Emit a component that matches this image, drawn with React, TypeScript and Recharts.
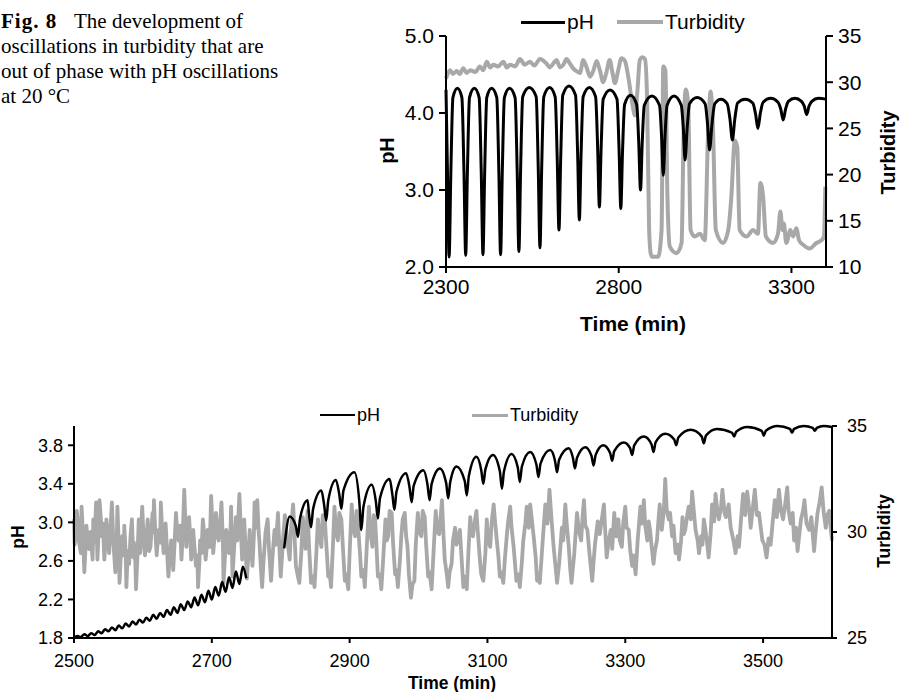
import { LineChart, Line, XAxis, YAxis, Label } from 'recharts'

// ---- data: [time (min), value] ----

const topTimeTicks = [2300, 2800, 3300]
const topPhTicks = [2, 3, 4, 5]
const topTurbTicks = [10, 15, 20, 25, 30, 35]

const topPh = [
  [2300, 4.30], [2304, 3.30], [2309, 2.13],
  [2314, 3.22], [2320, 4.20], [2333, 4.32], [2346, 4.20], [2352, 3.24], [2357, 2.15],
  [2362, 3.24], [2368, 4.20], [2382, 4.32], [2396, 4.20], [2402, 3.24], [2407, 2.16],
  [2412, 3.24], [2418, 4.20], [2432, 4.32], [2447, 4.20], [2453, 3.24], [2458, 2.16],
  [2463, 3.24], [2469, 4.20], [2484, 4.32], [2500, 4.20], [2506, 3.26], [2511, 2.20],
  [2516, 3.27], [2522, 4.21], [2541, 4.33], [2561, 4.21], [2567, 3.29], [2572, 2.25],
  [2577, 3.29], [2583, 4.21], [2600, 4.33], [2616, 4.21], [2622, 3.40], [2627, 2.48],
  [2632, 3.41], [2638, 4.23], [2656, 4.35], [2675, 4.23], [2681, 3.48], [2686, 2.61],
  [2691, 3.47], [2697, 4.21], [2715, 4.33], [2733, 4.21], [2739, 3.55], [2744, 2.78],
  [2749, 3.54], [2755, 4.18], [2775, 4.30], [2795, 4.18], [2801, 3.52], [2806, 2.76],
  [2811, 3.50], [2817, 4.11], [2834, 4.23], [2852, 4.11], [2858, 3.61], [2863, 3.00],
  [2868, 3.61], [2874, 4.10], [2896, 4.22], [2918, 4.10], [2924, 3.70], [2929, 3.19],
  [2934, 3.70], [2940, 4.10], [2960, 4.22], [2981, 4.10], [2987, 3.80], [2992, 3.39],
  [2998, 3.80], [3005, 4.12], [3027, 4.20], [3050, 4.12], [3057, 3.86], [3063, 3.52],
  [3070, 3.86], [3078, 4.12], [3096, 4.18], [3114, 4.12], [3122, 3.92], [3129, 3.65],
  [3136, 3.92], [3144, 4.13], [3166, 4.18], [3188, 4.13], [3196, 3.99], [3203, 3.80],
  [3210, 4.00], [3218, 4.14], [3240, 4.19], [3261, 4.14], [3269, 4.05], [3276, 3.91],
  [3283, 4.05], [3291, 4.15], [3310, 4.19], [3329, 4.15], [3337, 4.09], [3344, 3.98],
  [3351, 4.09], [3359, 4.15], [3378, 4.19], [3400, 4.18],
]

const topTurbidity = [
  [2300, 30.4], [2306, 31.0], [2312, 31.3], [2320, 30.9], [2331, 31.2], [2340, 30.9],
  [2350, 31.5], [2360, 31.0], [2370, 31.3], [2385, 31.1], [2398, 31.7], [2408, 31.3],
  [2418, 32.2], [2428, 31.6], [2437, 31.9], [2450, 31.7], [2466, 32.2], [2476, 31.6],
  [2485, 31.9], [2500, 31.7], [2514, 32.5], [2528, 31.9], [2543, 32.2], [2556, 31.8],
  [2572, 32.5], [2591, 32.0], [2601, 31.6], [2612, 32.1], [2620, 32.4], [2630, 31.6],
  [2640, 31.9], [2649, 32.5], [2659, 32.0], [2668, 31.5], [2678, 31.2], [2688, 31.0],
  [2697, 32.4], [2707, 31.6], [2717, 30.6], [2727, 31.3], [2736, 32.3], [2746, 31.2],
  [2755, 30.0], [2764, 31.0], [2774, 32.4], [2782, 31.0], [2789, 29.9], [2798, 31.2],
  [2808, 32.6], [2818, 32.3], [2828, 30.5], [2838, 28.0], [2847, 26.4], [2854, 29.0],
  [2861, 32.4], [2869, 32.7], [2876, 32.5], [2882, 28.4], [2888, 14.0], [2893, 11.4],
  [2898, 11.1], [2914, 11.1], [2924, 14.0], [2929, 31.7], [2935, 31.3], [2941, 17.6],
  [2948, 12.2], [2967, 11.5], [2982, 12.6], [2988, 24.8], [2994, 29.2], [3001, 27.7],
  [3008, 14.0], [3020, 13.3], [3035, 13.6], [3049, 12.9], [3059, 24.8], [3066, 29.0],
  [3073, 24.8], [3081, 14.0], [3102, 12.6], [3117, 14.0], [3126, 17.6], [3136, 23.7],
  [3143, 23.0], [3150, 14.0], [3170, 13.3], [3189, 14.0], [3203, 13.6], [3210, 19.1],
  [3218, 17.6], [3226, 13.3], [3247, 12.6], [3261, 13.6], [3268, 16.0], [3274, 14.0],
  [3278, 14.7], [3285, 12.6], [3297, 14.0], [3305, 13.3], [3314, 14.2], [3322, 12.9],
  [3334, 12.4], [3353, 12.0], [3372, 12.6], [3387, 12.9], [3394, 13.3], [3398, 18.7],
]

const bottomTimeTicks = [2500, 2700, 2900, 3100, 3300, 3500]
const bottomPhTicks = [1.8, 2.2, 2.6, 3.0, 3.4, 3.8]
const bottomTurbTicks = [25, 30, 35]

const bottomPh = [
  [2500, 1.80], [2505, 1.82], [2510, 1.81], [2515, 1.84], [2520, 1.82], [2525, 1.85],
  [2530, 1.83], [2535, 1.87], [2540, 1.85], [2545, 1.89], [2550, 1.87], [2555, 1.91],
  [2560, 1.88], [2565, 1.93], [2570, 1.90], [2575, 1.95], [2580, 1.92], [2585, 1.97],
  [2590, 1.94], [2595, 1.99], [2600, 1.96], [2605, 2.01], [2610, 1.98], [2615, 2.04],
  [2620, 2.00], [2625, 2.06], [2630, 2.02], [2635, 2.09], [2640, 2.04], [2645, 2.12],
  [2650, 2.06], [2655, 2.15], [2660, 2.09], [2665, 2.18], [2670, 2.12], [2675, 2.22],
  [2680, 2.14], [2685, 2.25], [2690, 2.17], [2695, 2.29], [2700, 2.20], [2705, 2.33],
  [2710, 2.24], [2715, 2.38], [2720, 2.28], [2725, 2.43], [2730, 2.32], [2735, 2.49],
  [2740, 2.36], [2745, 2.54], [2750, 2.42],
  [2752, null],
  [2805, 2.73], [2813, 3.06],
  [2822, 2.96], [2825, 2.85], [2828, 3.04], [2839, 3.23],
  [2841, 3.09], [2844, 2.95], [2847, 3.14], [2859, 3.33],
  [2863, 3.18], [2866, 3.02], [2869, 3.23], [2880, 3.44],
  [2885, 3.29], [2888, 3.14], [2891, 3.33], [2907, 3.52],
  [2914, 3.22], [2917, 2.92], [2920, 3.16], [2932, 3.39],
  [2938, 3.22], [2941, 3.04], [2944, 3.25], [2958, 3.45],
  [2962, 3.29], [2965, 3.13], [2968, 3.32], [2982, 3.51],
  [2987, 3.36], [2990, 3.21], [2993, 3.38], [3007, 3.54],
  [3013, 3.39], [3016, 3.23], [3019, 3.40], [3031, 3.56],
  [3040, 3.41], [3043, 3.25], [3046, 3.42], [3055, 3.58],
  [3067, 3.43], [3070, 3.28], [3073, 3.48], [3084, 3.68],
  [3091, 3.54], [3094, 3.40], [3097, 3.55], [3108, 3.70],
  [3118, 3.53], [3121, 3.35], [3124, 3.53], [3135, 3.71],
  [3144, 3.57], [3147, 3.42], [3150, 3.58], [3162, 3.73],
  [3171, 3.60], [3174, 3.47], [3177, 3.61], [3191, 3.75],
  [3198, 3.64], [3201, 3.52], [3204, 3.65], [3218, 3.77],
  [3224, 3.67], [3227, 3.56], [3230, 3.67], [3242, 3.78],
  [3251, 3.69], [3254, 3.59], [3257, 3.70], [3268, 3.80],
  [3278, 3.72], [3281, 3.64], [3284, 3.74], [3298, 3.83],
  [3307, 3.77], [3310, 3.70], [3313, 3.80], [3327, 3.89],
  [3338, 3.81], [3341, 3.73], [3344, 3.83], [3358, 3.92],
  [3371, 3.86], [3374, 3.80], [3377, 3.88], [3395, 3.96],
  [3411, 3.89], [3414, 3.82], [3417, 3.90], [3433, 3.97],
  [3455, 3.93], [3458, 3.89], [3461, 3.94], [3477, 3.99],
  [3498, 3.95], [3501, 3.90], [3504, 3.95], [3521, 4.00],
  [3539, 3.97], [3542, 3.93], [3545, 3.97], [3559, 4.00],
  [3572, 3.98], [3575, 3.95], [3578, 3.98], [3588, 4.00], [3600, 3.99],
]

const bottomTurbidity = [
  [2500, 30.6], [2501, 29.4], [2502, 29.8], [2504, 31.0], [2505, 30.7], [2507, 29.6], [2510, 29.0],
  [2511, 31.2], [2513, 29.9], [2515, 28.1], [2517, 29.4], [2518, 30.3], [2520, 29.6], [2522, 29.2],
  [2524, 30.0], [2527, 28.7], [2528, 30.6], [2530, 29.5], [2532, 31.4], [2533, 30.0], [2534, 28.7],
  [2536, 30.2], [2537, 31.5], [2539, 30.6], [2540, 29.8], [2542, 30.4], [2544, 28.7], [2546, 29.6],
  [2547, 30.6], [2549, 29.7], [2551, 29.0], [2553, 30.2], [2555, 31.4], [2557, 29.6], [2560, 28.1],
  [2562, 29.5], [2563, 31.2], [2565, 29.4], [2566, 27.6], [2568, 28.9], [2570, 29.8], [2572, 28.9],
  [2573, 30.3], [2575, 29.0], [2576, 27.4], [2578, 29.1], [2580, 28.5], [2582, 29.8], [2584, 30.6],
  [2586, 28.8], [2587, 29.5], [2589, 28.6], [2590, 27.3], [2592, 28.8], [2594, 30.6], [2596, 29.0],
  [2597, 29.6], [2598, 30.5], [2599, 31.2], [2601, 29.7], [2603, 28.9], [2605, 29.6], [2607, 30.6],
  [2609, 29.1], [2611, 29.3], [2613, 30.4], [2614, 30.9], [2615, 30.0], [2616, 31.5], [2618, 30.0],
  [2620, 28.9], [2622, 29.8], [2623, 30.1], [2625, 29.5], [2626, 31.4], [2628, 30.0], [2630, 29.0],
  [2632, 29.9], [2633, 30.4], [2635, 29.1], [2637, 27.9], [2639, 28.9], [2641, 29.6], [2643, 28.8],
  [2644, 28.2], [2646, 29.5], [2648, 30.9], [2650, 29.9], [2652, 29.6], [2654, 30.3], [2656, 28.7],
  [2658, 30.1], [2660, 32.0], [2662, 30.2], [2663, 29.3], [2665, 30.4], [2667, 30.7], [2669, 29.5],
  [2670, 28.7], [2672, 29.6], [2673, 30.1], [2675, 29.2], [2677, 28.4], [2679, 28.9], [2680, 27.4],
  [2682, 28.6], [2683, 29.6], [2685, 29.0], [2687, 30.6], [2689, 29.9], [2691, 28.7], [2693, 29.4],
  [2694, 30.1], [2697, 29.3], [2699, 31.7], [2701, 30.3], [2702, 29.0], [2704, 29.8], [2706, 30.9],
  [2708, 29.9], [2710, 29.6], [2712, 30.4], [2714, 31.4], [2716, 29.6], [2717, 27.6], [2719, 28.8],
  [2721, 30.1], [2723, 29.6], [2725, 29.0], [2727, 30.0], [2728, 31.2], [2729, 29.5], [2730, 27.9],
  [2732, 29.0], [2735, 30.7], [2737, 29.6], [2740, 31.8], [2742, 30.2], [2744, 28.7], [2746, 29.7],
  [2747, 30.6], [2749, 29.2], [2751, 27.8], [2753, 28.9], [2755, 30.1], [2757, 29.2], [2759, 28.4],
  [2761, 29.8], [2762, 31.4], [2764, 30.2], [2766, 31.5], [2768, 30.0], [2769, 29.6], [2771, 28.4],
  [2773, 27.4], [2775, 28.6], [2778, 30.0], [2781, 30.6], [2783, 29.2], [2786, 27.7], [2788, 28.8],
  [2791, 30.1], [2793, 29.4], [2796, 30.9], [2798, 29.3], [2800, 27.9], [2802, 28.9], [2803, 29.5],
  [2806, 30.8], [2808, 30.1], [2810, 29.5], [2813, 28.7], [2815, 30.2], [2818, 31.3], [2820, 29.9],
  [2822, 28.4], [2825, 27.9], [2827, 27.6], [2830, 29.1], [2832, 30.7], [2834, 30.0], [2836, 29.2],
  [2838, 30.4], [2839, 31.0], [2841, 29.4], [2844, 27.6], [2847, 27.9], [2849, 27.4], [2852, 29.2],
  [2854, 30.6], [2856, 29.9], [2859, 29.3], [2861, 30.8], [2864, 30.6], [2866, 29.5], [2869, 27.9],
  [2871, 28.1], [2873, 27.4], [2876, 29.5], [2878, 31.2], [2880, 30.1], [2883, 29.6], [2885, 30.9],
  [2888, 30.6], [2890, 29.4], [2893, 27.7], [2895, 28.0], [2898, 27.3], [2900, 29.0], [2903, 31.3],
  [2905, 30.2], [2908, 29.8], [2910, 31.0], [2912, 30.4], [2915, 29.0], [2917, 27.9], [2920, 28.2],
  [2922, 27.4], [2925, 29.4], [2928, 31.2], [2930, 30.0], [2933, 29.3], [2935, 30.8], [2937, 30.6],
  [2939, 29.3], [2941, 27.9], [2944, 28.0], [2946, 27.3], [2949, 28.9], [2952, 30.6], [2954, 29.6],
  [2956, 29.8], [2958, 31.0], [2961, 30.9], [2963, 29.5], [2966, 28.0], [2968, 28.2], [2970, 27.4],
  [2973, 28.7], [2975, 29.8], [2977, 30.6], [2980, 30.9], [2982, 29.8], [2984, 29.3], [2986, 28.0],
  [2989, 26.9], [2991, 27.5], [2994, 27.7], [2996, 29.4], [2999, 30.9], [3001, 30.0], [3004, 29.8],
  [3006, 31.0], [3009, 30.7], [3011, 29.4], [3014, 27.9], [3016, 28.1], [3019, 27.3], [3022, 29.2],
  [3025, 31.0], [3027, 30.0], [3030, 29.9], [3032, 30.7], [3034, 31.5], [3036, 30.0], [3038, 28.7],
  [3041, 28.0], [3043, 27.4], [3045, 28.1], [3048, 28.5], [3050, 29.6], [3053, 30.2], [3055, 29.4],
  [3058, 29.8], [3060, 30.1], [3062, 29.0], [3065, 27.4], [3067, 27.9], [3070, 27.3], [3072, 28.8],
  [3075, 30.7], [3077, 29.9], [3079, 29.8], [3082, 30.6], [3084, 31.0], [3086, 30.0], [3089, 28.7],
  [3091, 28.0], [3094, 27.7], [3097, 29.0], [3099, 30.6], [3101, 29.6], [3104, 29.3], [3106, 30.4],
  [3109, 31.3], [3111, 30.5], [3113, 29.8], [3116, 28.8], [3118, 27.9], [3120, 28.1], [3123, 27.6],
  [3125, 28.6], [3128, 29.8], [3130, 30.5], [3133, 31.2], [3135, 30.2], [3138, 29.3], [3140, 28.5],
  [3142, 27.7], [3145, 28.0], [3147, 27.4], [3150, 28.6], [3152, 29.6], [3155, 30.4], [3157, 31.2],
  [3160, 30.2], [3162, 31.3], [3165, 30.4], [3167, 29.8], [3170, 28.8], [3172, 27.7], [3174, 28.0],
  [3176, 27.6], [3180, 29.5], [3184, 31.3], [3187, 30.4], [3190, 32.0], [3193, 30.6], [3196, 29.3],
  [3199, 28.3], [3201, 27.6], [3204, 28.5], [3208, 30.2], [3210, 29.6], [3213, 31.3], [3215, 30.4],
  [3218, 29.3], [3220, 28.3], [3222, 27.6], [3226, 29.0], [3230, 30.9], [3233, 30.0], [3236, 29.6],
  [3238, 30.7], [3240, 31.5], [3242, 30.3], [3245, 30.1], [3248, 29.0], [3252, 27.7], [3254, 28.6],
  [3256, 29.4], [3260, 30.5], [3263, 29.9], [3266, 30.6], [3269, 31.3], [3271, 30.0], [3273, 28.8],
  [3276, 29.6], [3279, 30.1], [3281, 29.2], [3284, 30.9], [3287, 29.8], [3290, 30.6], [3292, 29.6],
  [3295, 29.3], [3297, 30.4], [3300, 31.2], [3302, 30.2], [3305, 30.1], [3307, 29.2], [3310, 28.4],
  [3312, 28.9], [3315, 28.0], [3318, 29.6], [3322, 31.2], [3324, 30.4], [3327, 31.5], [3329, 30.3],
  [3332, 29.6], [3334, 30.5], [3336, 30.1], [3338, 29.4], [3341, 28.5], [3343, 29.1], [3346, 29.6],
  [3348, 30.5], [3350, 31.3], [3352, 30.4], [3353, 30.1], [3356, 31.0], [3358, 32.5], [3360, 31.1],
  [3363, 30.6], [3365, 30.9], [3368, 29.8], [3370, 30.3], [3373, 29.0], [3376, 29.4], [3378, 28.7],
  [3381, 29.6], [3383, 30.7], [3385, 29.9], [3387, 30.1], [3390, 30.8], [3392, 31.2], [3395, 30.6],
  [3397, 31.9], [3400, 30.8], [3402, 30.1], [3405, 29.6], [3407, 29.0], [3410, 29.8], [3412, 29.4],
  [3414, 30.6], [3416, 30.2], [3419, 29.4], [3421, 28.8], [3424, 30.0], [3426, 31.3], [3429, 30.5],
  [3431, 31.8], [3434, 30.9], [3436, 30.6], [3439, 31.2], [3441, 32.0], [3444, 30.9], [3446, 30.7],
  [3450, 31.3], [3453, 30.2], [3457, 29.6], [3460, 29.0], [3463, 29.8], [3465, 29.3], [3468, 30.6],
  [3471, 31.8], [3474, 30.8], [3477, 31.9], [3480, 31.0], [3482, 30.2], [3485, 31.1], [3488, 32.0],
  [3491, 30.8], [3494, 30.9], [3497, 30.1], [3499, 29.6], [3502, 29.4], [3505, 28.8], [3508, 29.7],
  [3511, 29.4], [3514, 30.5], [3517, 31.5], [3520, 30.7], [3523, 32.0], [3526, 31.0], [3529, 30.6],
  [3532, 31.3], [3535, 32.1], [3537, 31.0], [3540, 30.4], [3543, 30.9], [3545, 29.6], [3548, 30.2],
  [3550, 29.1], [3553, 30.0], [3555, 30.6], [3558, 31.0], [3560, 31.5], [3563, 30.4], [3567, 30.1],
  [3570, 30.7], [3574, 29.1], [3576, 29.9], [3579, 30.9], [3582, 31.4], [3585, 32.1], [3588, 30.9],
  [3591, 30.2], [3593, 30.8], [3596, 31.0], [3598, 30.2], [3600, 29.6],
]

// ---- helpers ----

const SANS = '"Liberation Sans", Arial, Helvetica, sans-serif'
const SERIF = '"Liberation Serif", "Times New Roman", serif'
const GRAY = '#a8a8a8'

const rows = (pairs: (number | null)[][]) => pairs.map(([t, v]) => ({ t, v }))

// axis title drawn from the axis viewBox; dx/dy relative to axis box
function axisTitle(text: string, size: number, dx: number, dy: number, vertical: boolean) {
  return (props: any) => {
    const vb = props.viewBox || {}
    const cx = vertical ? vb.x + dx : vb.x + vb.width / 2 + dx
    const cy = vertical ? vb.y + vb.height / 2 + dy : vb.y + dy
    return (
      <text
        x={cx}
        y={cy}
        textAnchor="middle"
        dominantBaseline="central"
        transform={vertical ? `rotate(-90 ${cx} ${cy})` : undefined}
        fontFamily={SANS}
        fontWeight="bold"
        fontSize={size}
        fill="#000"
      >
        {text}
      </text>
    )
  }
}

function LegendKey({ x, y, w, color, thick, label, size }: any) {
  return (
    <>
      <div style={{ position: 'absolute', left: x, top: y - thick / 2, width: w, height: thick, background: color }} />
      <div
        style={{
          position: 'absolute', left: x + w + 2, top: y - 14, height: 28, lineHeight: '28px',
          fontSize: size, fontFamily: SANS, color: '#000', whiteSpace: 'nowrap',
        }}
      >
        {label}
      </div>
    </>
  )
}

const axisLine = { stroke: '#000', strokeWidth: 2 }

export default function App() {
  const topTick = { fill: '#000', fontSize: 21, fontFamily: SANS }
  const botTick = { fill: '#000', fontSize: 18, fontFamily: SANS }

  return (
    <div style={{ position: 'absolute', left: 0, top: 0, width: 901, height: 692, background: '#fff', overflow: 'hidden' }}>
      {/* caption */}
      <div
        style={{
          position: 'absolute', left: 1, top: 9, fontFamily: SERIF, fontSize: 21,
          lineHeight: '25px', color: '#000', whiteSpace: 'nowrap',
        }}
      >
        <div>
          <b style={{ display: 'inline-block', width: 73, letterSpacing: 1 }}>Fig. 8</b>The development of
        </div>
        <div>oscillations in turbidity that are</div>
        <div>out of phase with pH oscillations</div>
        <div>at 20 °C</div>
      </div>

      {/* top chart */}
      <LegendKey x={521} y={22} w={44} color="#000" thick={3} label="pH" size={21} />
      <LegendKey x={617} y={22} w={46} color={GRAY} thick={4} label="Turbidity" size={21} />
      <div style={{ position: 'absolute', left: 370, top: 0 }}>
        <LineChart width={531} height={345} margin={{ top: 36, right: 0, bottom: 0, left: 0 }}>
          <XAxis
            type="number" dataKey="t" domain={[2300, 3400]} ticks={topTimeTicks} interval={0}
            height={78} axisLine={axisLine} tickLine={axisLine} tickSize={6} tickMargin={6} tick={topTick}
          >
            <Label content={axisTitle('Time (min)', 21, -3, 56, false)} />
          </XAxis>
          <YAxis
            yAxisId="ph" domain={[2, 5]} ticks={topPhTicks} interval={0} width={76}
            tickFormatter={(v: number) => v.toFixed(1)}
            axisLine={axisLine} tickLine={axisLine} tickSize={7} tickMargin={5} tick={topTick}
          >
            <Label content={axisTitle('pH', 20, 17, -1, true)} />
          </YAxis>
          <YAxis
            yAxisId="turb" orientation="right" domain={[10, 35]} ticks={topTurbTicks} interval={0} width={75}
            axisLine={axisLine} tickLine={axisLine} tickSize={7} tickMargin={5} tick={topTick}
          >
            <Label content={axisTitle('Turbidity', 20, 62, 1, true)} />
          </YAxis>
          <Line
            yAxisId="turb" data={rows(topTurbidity)} dataKey="v" type="monotone"
            stroke={GRAY} strokeWidth={4} dot={false} isAnimationActive={false}
          />
          <Line
            yAxisId="ph" data={rows(topPh)} dataKey="v" type="monotone"
            stroke="#000" strokeWidth={3} dot={false} isAnimationActive={false}
          />
        </LineChart>
      </div>

      {/* bottom chart */}
      <LegendKey x={320} y={415} w={35} color="#000" thick={2.5} label="pH" size={18} />
      <LegendKey x={472} y={415} w={36} color={GRAY} thick={3} label="Turbidity" size={18} />
      <div style={{ position: 'absolute', left: 0, top: 400 }}>
        <LineChart width={901} height={292} margin={{ top: 26, right: 0, bottom: 0, left: 0 }}>
          <XAxis
            type="number" dataKey="t" domain={[2500, 3600]} ticks={bottomTimeTicks} interval={0}
            height={54} axisLine={axisLine} tickLine={axisLine} tickSize={5} tickMargin={11} tick={botTick}
          >
            <Label content={axisTitle('Time (min)', 17.5, -1, 45, false)} />
          </XAxis>
          <YAxis
            yAxisId="ph" domain={[1.8, 4.0]} ticks={bottomPhTicks} interval={0} width={74}
            tickFormatter={(v: number) => v.toFixed(1)}
            axisLine={axisLine} tickLine={axisLine} tickSize={6} tickMargin={5} tick={botTick}
          >
            <Label content={axisTitle('pH', 17.5, 18, 5, true)} />
          </YAxis>
          <YAxis
            yAxisId="turb" orientation="right" domain={[25, 35]} ticks={bottomTurbTicks} interval={0} width={69}
            axisLine={axisLine} tickLine={axisLine} tickSize={5} tickMargin={10} tick={botTick}
          >
            <Label content={axisTitle('Turbidity', 17.5, 52, -1, true)} />
          </YAxis>
          <Line
            yAxisId="turb" data={rows(bottomTurbidity)} dataKey="v" type="linear"
            stroke={GRAY} strokeWidth={3.8} strokeLinejoin="round" dot={false} isAnimationActive={false}
          />
          <Line
            yAxisId="ph" data={rows(bottomPh)} dataKey="v" type="monotone"
            stroke="#000" strokeWidth={2.5} dot={false} isAnimationActive={false}
          />
        </LineChart>
      </div>
    </div>
  )
}
